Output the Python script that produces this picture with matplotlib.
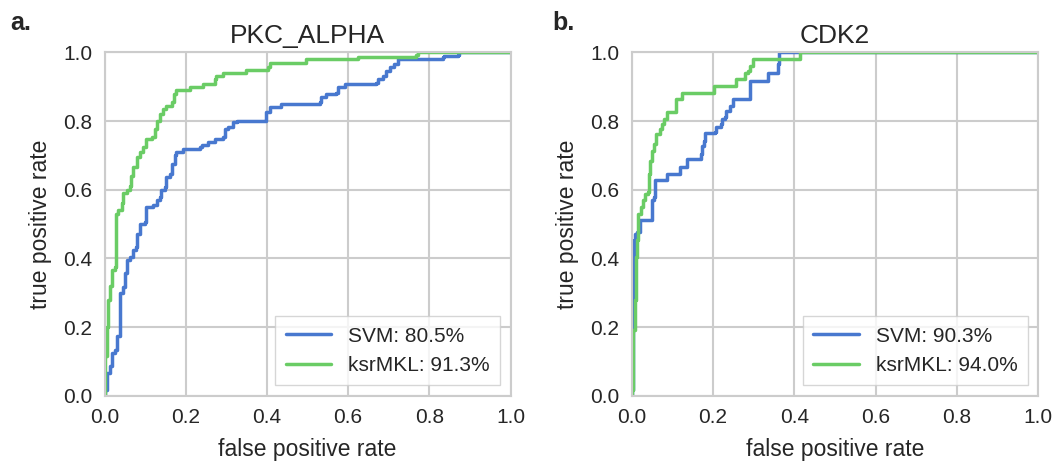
import matplotlib
matplotlib.use("Agg")
import matplotlib.pyplot as plt
import seaborn as sns

sns.set_style("whitegrid")
plt.rcParams["font.family"] = ["Liberation Sans", "DejaVu Sans"]

blue = "#4878cf"
green = "#6acc65"

# PKC_ALPHA roc points
pkc_svm_fpr = [0, 0, 0.005, 0.013, 0.017, 0.025, 0.030, 0.038, 0.039, 0.046, 0.050, 0.054, 0.062, 0.070,
               0.077, 0.080, 0.087, 0.099, 0.103, 0.120, 0.128, 0.136, 0.140, 0.148, 0.152, 0.161, 0.165,
               0.173, 0.177, 0.193, 0.234, 0.239, 0.255, 0.271, 0.292, 0.296, 0.304, 0.316, 0.325, 0.394,
               0.398, 0.407, 0.435, 0.530, 0.534, 0.546, 0.570, 0.575, 0.591, 0.669, 0.673, 0.685, 0.693,
               0.702, 0.714, 0.722, 0.833, 0.837, 0.870, 0.874, 1.0]
pkc_svm_tpr = [0, 0.018, 0.067, 0.086, 0.125, 0.134, 0.173, 0.183, 0.299, 0.318, 0.357, 0.395, 0.405, 0.424,
               0.434, 0.472, 0.501, 0.506, 0.550, 0.555, 0.569, 0.579, 0.598, 0.608, 0.637, 0.646, 0.675,
               0.700, 0.709, 0.719, 0.724, 0.729, 0.738, 0.748, 0.753, 0.777, 0.782, 0.796, 0.801, 0.801,
               0.825, 0.840, 0.849, 0.854, 0.869, 0.878, 0.883, 0.898, 0.907, 0.912, 0.922, 0.931, 0.946,
               0.957, 0.965, 0.980, 0.985, 0.989, 0.992, 1.0, 1.0]
pkc_mkl_fpr = [0, 0, 0.0016, 0.005, 0.009, 0.013, 0.018, 0.025, 0.028, 0.034, 0.042, 0.046, 0.054, 0.062,
               0.066, 0.070, 0.079, 0.087, 0.095, 0.103, 0.116, 0.124, 0.128, 0.136, 0.144, 0.152, 0.165,
               0.170, 0.175, 0.21, 0.243, 0.271, 0.275, 0.292, 0.349, 0.402, 0.407, 0.497, 0.624, 0.767,
               0.771, 1.0]
pkc_mkl_tpr = [0, 0.018, 0.115, 0.2, 0.28, 0.32, 0.366, 0.376, 0.53, 0.54, 0.56, 0.59, 0.60, 0.61,
               0.64, 0.666, 0.695, 0.709, 0.724, 0.748, 0.753, 0.777, 0.80, 0.82, 0.835, 0.844, 0.854,
               0.878, 0.89, 0.898, 0.909, 0.922, 0.931, 0.941, 0.948, 0.957, 0.970, 0.980, 0.986, 0.992,
               1.0, 1.0]

# CDK2 roc points
cdk_svm_fpr = [0, 0.002, 0.003, 0.005, 0.008, 0.012, 0.020, 0.049, 0.051, 0.056, 0.057, 0.086, 0.088,
               0.114, 0.118, 0.135, 0.137, 0.167, 0.170, 0.173, 0.178, 0.181, 0.204, 0.208, 0.220, 0.222,
               0.229, 0.233, 0.241, 0.249, 0.290, 0.292, 0.335, 0.336, 0.355, 0.359, 0.363, 1.0]
cdk_svm_tpr = [0, 0.018, 0.279, 0.453, 0.472, 0.477, 0.511, 0.511, 0.569, 0.579, 0.627, 0.632, 0.646,
               0.646, 0.666, 0.671, 0.690, 0.690, 0.704, 0.728, 0.743, 0.764, 0.767, 0.784, 0.791, 0.806,
               0.811, 0.830, 0.844, 0.864, 0.864, 0.917, 0.922, 0.941, 0.941, 0.965, 1.0, 1.0]
cdk_mkl_fpr = [0, 0.002, 0.004, 0.007, 0.010, 0.012, 0.016, 0.023, 0.029, 0.034, 0.041, 0.042, 0.045,
               0.049, 0.056, 0.061, 0.069, 0.075, 0.080, 0.086, 0.106, 0.108, 0.122, 0.124, 0.200, 0.202,
               0.253, 0.257, 0.273, 0.278, 0.286, 0.290, 0.298, 0.412, 0.415, 1.0]
cdk_mkl_tpr = [0, 0.018, 0.192, 0.279, 0.405, 0.453, 0.530, 0.550, 0.569, 0.588, 0.593, 0.646, 0.685,
               0.714, 0.733, 0.762, 0.777, 0.791, 0.806, 0.825, 0.825, 0.864, 0.864, 0.883, 0.883, 0.902,
               0.902, 0.922, 0.922, 0.941, 0.946, 0.960, 0.980, 0.980, 1.0, 1.0]

panels = [
    ("PKC_ALPHA", "a.", (pkc_svm_fpr, pkc_svm_tpr, 80.5), (pkc_mkl_fpr, pkc_mkl_tpr, 91.3)),
    ("CDK2", "b.", (cdk_svm_fpr, cdk_svm_tpr, 90.3), (cdk_mkl_fpr, cdk_mkl_tpr, 94.0)),
]

fig = plt.figure(figsize=(10.57, 4.63), dpi=100)
ax_boxes = [[0.099, 0.145, 0.384, 0.742], [0.5976, 0.145, 0.3847, 0.742]]
letter_x = [0.010, 0.523]

for box, lx, (title, letter, svm, mkl) in zip(ax_boxes, letter_x, panels):
    ax = fig.add_axes(box)
    ax.plot(svm[0], svm[1], color=blue, lw=2.5, drawstyle="steps-post",
            label="SVM: %.1f%%" % svm[2])
    ax.plot(mkl[0], mkl[1], color=green, lw=2.5, drawstyle="steps-post",
            label="ksrMKL: %.1f%%" % mkl[2])
    ax.set_xlim(0, 1)
    ax.set_ylim(0, 1)
    ax.set_xticks([0, 0.2, 0.4, 0.6, 0.8, 1.0])
    ax.set_yticks([0, 0.2, 0.4, 0.6, 0.8, 1.0])
    ax.tick_params(labelsize=15, pad=9, length=0)
    ax.grid(True, color="#cccccc", lw=1.5)
    for s in ax.spines.values():
        s.set_color("#cccccc")
        s.set_linewidth(1.5)
    ax.set_xlabel("false positive rate", fontsize=16.5, labelpad=8)
    ax.set_ylabel("true positive rate", fontsize=16.5, labelpad=8)
    ax.set_title(title, fontsize=19, pad=7)
    leg = ax.legend(loc="lower right", fontsize=15, frameon=True, handlelength=2.2,
                    borderpad=0.5, fancybox=False)
    leg.get_frame().set_edgecolor("#cccccc")
    leg.get_frame().set_facecolor("white")
    fig.text(lx, 0.95, letter, fontsize=18, fontweight="bold", ha="left", va="center")

fig.savefig("out.png", dpi=100)
